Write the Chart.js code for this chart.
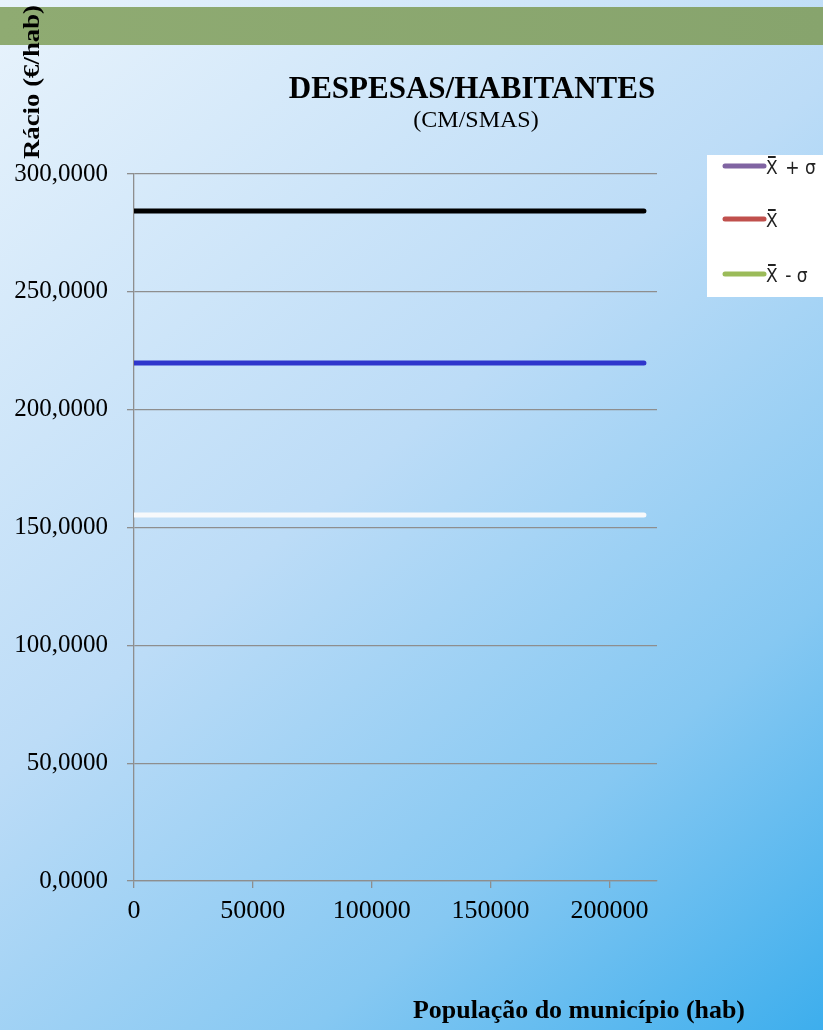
<!DOCTYPE html>
<html>
<head>
<meta charset="utf-8">
<script src="https://cdn.jsdelivr.net/npm/chart.js@4/dist/chart.umd.min.js"></script>
<style>
  html, body { margin: 0; padding: 0; }
  body {
    width: 823px; height: 1030px; overflow: hidden; position: relative;
    background: linear-gradient(140deg, #e8f3fc 0%, #bcdcf7 45%, #86c8f2 75%, #3daeed 100%);
  }
  #faixa {
    position: absolute; left: 0; top: 7px; width: 823px; height: 38px;
    background: linear-gradient(90deg, #8fab72, #87a46d);
  }
  #grafico { position: absolute; left: 0; top: 0; }
</style>
</head>
<body>
<div id="faixa"></div>
<canvas id="grafico" width="823" height="1030"></canvas>
<script>
// dados
const populacao = [0, 214500];
const mediaMaisSigma = [284.3, 284.3];
const media = [219.8, 219.8];
const mediaMenosSigma = [155.3, 155.3];
const ticksY = [0, 50, 100, 150, 200, 250, 300];
const ticksX = [0, 50000, 100000, 150000, 200000];
const legendaTextos = ['+ σ', '', '- σ'];

function pontos(valores) {
    return populacao.map((p, i) => ({ x: p, y: valores[i] }));
}

// texto com largura forçada (o original está esticado)
function textoLargura(ctx, txt, x, y, largura) {
    const w = ctx.measureText(txt).width;
    ctx.save();
    ctx.translate(x, y);
    ctx.scale(largura / w, 1);
    ctx.fillText(txt, 0, 0);
    ctx.restore();
}

// textos e legenda desenhados à mão (posições do original)
const textosPlugin = {
    id: 'textos',
    afterDraw(chart) {
        const ctx = chart.ctx;
        ctx.save();
        ctx.fillStyle = '#000';
        ctx.textAlign = 'center';
        ctx.textBaseline = 'alphabetic';
        ctx.font = 'bold 31px "Liberation Serif"';
        ctx.fillText('DESPESAS/HABITANTES', 472, 98);
        ctx.font = '24px "Liberation Serif"';
        ctx.fillText('(CM/SMAS)', 476, 127);

        ctx.font = 'bold 25px "Liberation Serif"';
        textoLargura(ctx, 'População do município (hab)', 579, 1018, 332);

        ctx.save();
        ctx.translate(39, 82);
        ctx.rotate(-Math.PI / 2);
        ctx.font = 'bold 23px "Liberation Serif"';
        textoLargura(ctx, 'Rácio (€/hab)', 0, 0, 154);
        ctx.restore();

        // legenda
        ctx.fillStyle = '#ffffff';
        ctx.fillRect(707, 155, 116, 142);
        const cores = ['#8064a2', '#c0504d', '#9bbb59'];
        const ys = [166, 219, 274];
        ctx.textAlign = 'left';
        ctx.textBaseline = 'alphabetic';
        ctx.font = '19px "DejaVu Sans Condensed", "DejaVu Sans"';
        cores.forEach((c, i) => {
            ctx.strokeStyle = c;
            ctx.lineWidth = 5;
            ctx.lineCap = 'round';
            ctx.beginPath();
            ctx.moveTo(725, ys[i]);
            ctx.lineTo(764, ys[i]);
            ctx.stroke();
            ctx.fillStyle = '#222';
            const base = ys[i] + 8;
            ctx.fillText('X', 766, base);
            const w = ctx.measureText('X').width;
            ctx.lineWidth = 2;
            ctx.lineCap = 'butt';
            ctx.strokeStyle = '#222';
            ctx.beginPath();
            ctx.moveTo(768, base - 17);
            ctx.lineTo(766 + w - 2, base - 17);
            ctx.stroke();
            if (legendaTextos[i]) ctx.fillText(' ' + legendaTextos[i], 766 + w + 2, base);
        });
        ctx.restore();
    }
};

const linha = (valores, cor) => ({
    data: pontos(valores),
    borderColor: cor,
    backgroundColor: cor,
    borderWidth: 5,
    borderCapStyle: 'round',
    pointRadius: 0,
    fill: false
});

new Chart(document.getElementById('grafico'), {
    type: 'line',
    data: {
        datasets: [
            linha(mediaMaisSigma, '#000000'),
            linha(media, '#2f36cc'),
            linha(mediaMenosSigma, '#f7f9fb')
        ]
    },
    options: {
        responsive: false,
        animation: false,
        layout: { padding: { top: 174, right: 166, left: 0, bottom: 0 } },
        plugins: { legend: { display: false }, tooltip: { enabled: false } },
        scales: {
            x: {
                type: 'linear',
                min: 0,
                max: 220000,
                afterBuildTicks(scale) {
                    scale.ticks = ticksX.map(v => ({ value: v }));
                },
                afterFit(scale) { scale.height = 149; },
                grid: {
                    drawOnChartArea: false,
                    color: '#8e8e8e',
                    lineWidth: 1.3,
                    tickLength: 7
                },
                border: { color: '#8e8e8e', width: 1.3 },
                ticks: {
                    color: '#000',
                    font: { family: 'Liberation Serif', size: 26 },
                    padding: 8,
                    maxRotation: 0,
                    callback: v => String(v)
                }
            },
            y: {
                min: 0,
                max: 300,
                afterBuildTicks(scale) {
                    scale.ticks = ticksY.map(v => ({ value: v }));
                },
                afterFit(scale) { scale.width = 134; },
                grid: {
                    color: '#8e8e8e',
                    lineWidth: 1.3,
                    tickLength: 7
                },
                border: { color: '#8e8e8e', width: 1.3 },
                ticks: {
                    color: '#000',
                    font: { family: 'Liberation Serif', size: 25 },
                    padding: 19,
                    callback: v => v.toFixed(4).replace('.', ',')
                }
            }
        }
    },
    plugins: [textosPlugin]
});
</script>
</body>
</html>
